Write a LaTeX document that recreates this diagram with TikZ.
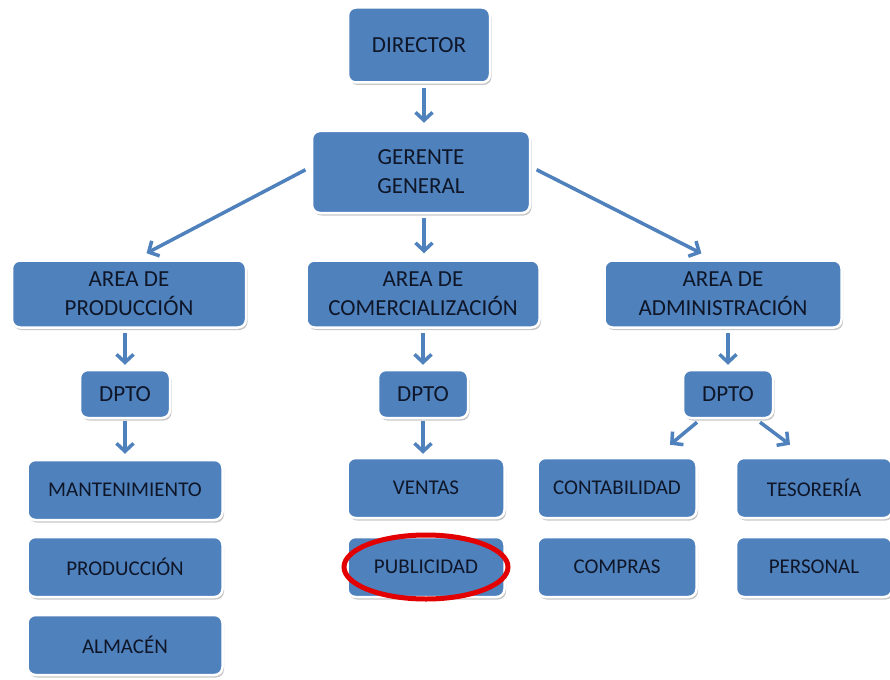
\documentclass[tikz,border=0pt]{standalone}
\usepackage{fontspec}
\setmainfont{Carlito}
\usetikzlibrary{arrows.meta,shadows,calc}
\definecolor{boxblue}{RGB}{79,129,189}
\definecolor{txtnavy}{RGB}{14,22,40}
\definecolor{ovalred}{RGB}{226,0,0}
\begin{document}
\begin{tikzpicture}[x=1pt,y=-1pt,
  orgbox/.style={rectangle, rounded corners=8pt, fill=boxblue, draw=white, line width=2.5pt,
    text=txtnavy, align=center, inner sep=0pt,
    drop shadow={shadow xshift=1.5pt, shadow yshift=-2.5pt, fill=black, opacity=0.22}},
  bigbox/.style={orgbox, font=\fontsize{23}{29}\selectfont},
  smallbox/.style={orgbox, font=\fontsize{21}{24}\selectfont},
  conn/.style={draw=boxblue, line width=3.5pt, -{Straight Barb[length=8pt,width=17pt]}},
]
\useasboundingbox (0,0) rectangle (890,679);
\fill[white] (0,0) rectangle (890,679);

\node[bigbox, minimum width=142pt, minimum height=75pt] (dir) at (419,45) {DIRECTOR};
\node[bigbox, minimum width=218pt, minimum height=82pt] (ger) at (421,172) {GERENTE\\GENERAL};
\node[bigbox, minimum width=234pt, minimum height=67pt] (ap) at (129,294) {AREA DE\\PRODUCCIÓN};
\node[bigbox, minimum width=233pt, minimum height=67pt] (ac) at (423,294) {AREA DE\\COMERCIALIZACIÓN};
\node[bigbox, minimum width=237pt, minimum height=67pt] (aa) at (723,294) {AREA DE\\ADMINISTRACIÓN};

\node[bigbox, minimum width=90pt, minimum height=48pt] (dp) at (125,394) {DPTO};
\node[bigbox, minimum width=90pt, minimum height=48pt] (dc) at (423,394) {DPTO};
\node[bigbox, minimum width=90pt, minimum height=48pt] (da) at (728,394) {DPTO};

\node[smallbox, minimum width=195pt, minimum height=60pt] (mant) at (125,490) {MANTENIMIENTO};
\node[smallbox, minimum width=195pt, minimum height=60pt] (prod) at (125,567) {PRODUCCIÓN};
\node[smallbox, minimum width=195pt, minimum height=60pt] (alm) at (125,645) {ALMACÉN};

\node[smallbox, minimum width=157pt, minimum height=60pt] (ven) at (426,488) {VENTAS};
\node[smallbox, minimum width=157pt, minimum height=60pt] (pub) at (426,567) {PUBLICIDAD};

\node[smallbox, minimum width=159pt, minimum height=60pt] (cont) at (617,488) {CONTABILIDAD};
\node[smallbox, minimum width=159pt, minimum height=60pt] (comp) at (617,567) {COMPRAS};
\node[smallbox, minimum width=156pt, minimum height=60pt] (tes) at (814,488) {TESORERÍA};
\node[smallbox, minimum width=156pt, minimum height=60pt] (pers) at (814,567) {PERSONAL};

% connectors
\draw[conn, shorten <=4pt, shorten >=7pt] ([xshift=5pt]dir.south) -- ([xshift=3pt]ger.north);
\draw[conn, shorten <=6pt, shorten >=13pt] ([yshift=5pt]ger.west) -- ([xshift=6pt]ap.north);
\draw[conn, shorten <=6pt, shorten >=13pt] ([yshift=5pt]ger.east) -- ([xshift=-10pt]aa.north);
\draw[conn, shorten <=4pt, shorten >=6pt] ([xshift=3pt]ger.south) -- ([xshift=1pt]ac.north);
\draw[conn, shorten <=4pt, shorten >=4pt] ([xshift=-4pt]ap.south) -- (dp.north);
\draw[conn, shorten <=4pt, shorten >=4pt] (ac.south) -- (dc.north);
\draw[conn, shorten <=4pt, shorten >=4pt] ([xshift=5pt]aa.south) -- (da.north);
\draw[conn, shorten <=2pt, shorten >=5pt] (dp.south) -- (mant.north);
\draw[conn, shorten <=2pt, shorten >=3pt] (dc.south) -- ([xshift=-3pt]ven.north);
\draw[conn] ([xshift=-31pt,yshift=-3pt]da.south) -- ([xshift=53pt,yshift=12pt]cont.north);
\draw[conn] ([xshift=32pt,yshift=-3pt]da.south) -- ([xshift=-24pt,yshift=12pt]tes.north);

% highlight
\draw[ovalred, line width=5pt] (pub.center) ellipse [x radius=82pt, y radius=32pt];
\end{tikzpicture}
\end{document}
